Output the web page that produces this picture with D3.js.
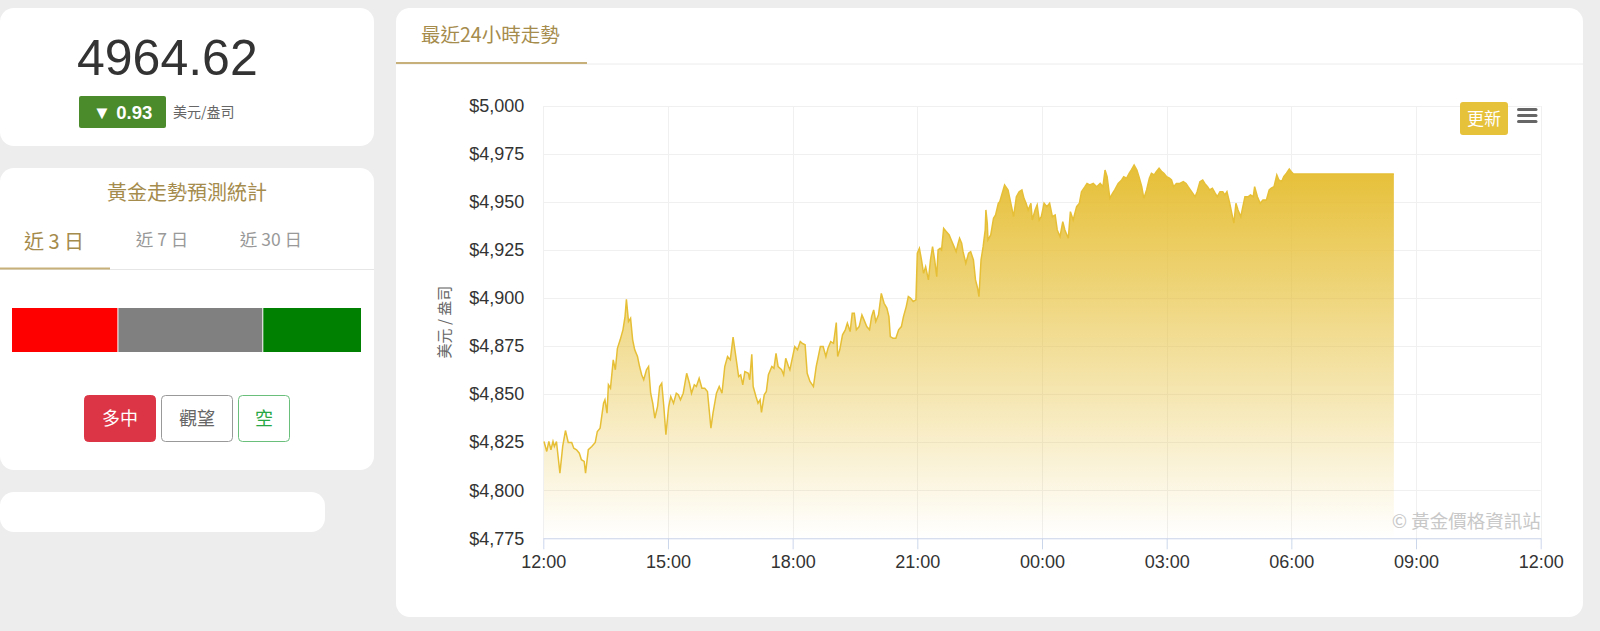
<!DOCTYPE html>
<html>
<head>
<meta charset="utf-8">
<script src="https://cdn.jsdelivr.net/npm/d3@7"></script>
<style>
  body { margin: 0; background: #ededed; font-family: "Liberation Sans", Arial, "Noto Sans CJK TC", sans-serif; }
  svg text { font-family: "Liberation Sans", Arial, "Noto Sans CJK TC", sans-serif; }
</style>
</head>
<body>
<svg id="page" width="1600" height="631"></svg>
<script>
// price header
var lastPrice = "4964.62";
var change = "▼ 0.93";
var unit = "美元/盎司";

// forecast stats (percent)
var votePct = [30.4, 41.4, 28.2];
var voteColors = ["#ff0000", "#808080", "#008000"];
var tabs = ["近 3 日", "近 7 日", "近 30 日"];

// 24h chart, minutes after 12:00
var offsets = [1,5,8,11,14,16,19,24,28,32,36,41,44,48,52,55,59,61,65,70,75,78,82,87,89,92,94,97,101,104,
  107,111,115,118,120,123,126,129,132,136,139,142,145,149,152,155,158,161,165,168,171,174,177,181,184,188,192,195,198,202,
  207,211,214,218,221,225,229,233,237,242,245,250,254,258,262,266,270,274,278,282,285,288,291,296,298,301,303,307,310,313,
  315,319,322,325,330,333,336,339,344,347,350,354,356,360,363,367,371,374,378,381,385,390,394,397,400,404,408,411,415,419,
  423,425,428,432,436,439,443,446,449,452,456,460,463,467,471,474,477,480,484,488,492,496,499,501,505,509,513,517,520,524,
  527,530,534,538,540,543,546,549,552,556,559,562,565,568,570,573,575,578,582,586,589,593,596,599,601,604,606,610,614,617,
  621,624,627,629,632,635,638,639,641,642,646,650,653,657,659,666,671,676,679,683,687,691,694,697,700,704,706,710,713,716,
  719,723,727,731,735,739,742,746,750,753,758,761,765,770,774,777,782,785,789,794,799,804,808,811,814,818,822,825,830,835,
  838,842,846,849,853,857,860,864,867,871,875,878,882,885,889,893,896,900,904,907,910,914,919,924,928,931,936,941,944,948,
  952,955,959,962,966,970,973,977,981,984,987,991,995,997,1000,1003,1007,1010,1013,1018,1021,1025,1027,1031,1035,1039,1044,1048,1051,1055,
  1059,1062,1066,1069,1073,1077,1080,1083,1228];
var prices = [4825.4,4820.2,4825.4,4821.1,4825.4,4822.8,4825.4,4808.9,4822.8,4831.1,4824.9,4824.9,4821.9,4821.1,4819.3,4815.9,4815.0,4808.9,4821.1,4822.8,
  4824.9,4830.6,4832.3,4845.3,4847.1,4840.1,4854.9,4853.1,4867.9,4862.7,4873.9,4878.3,4883.5,4890.4,4899.4,4887.8,4889.5,4878.3,4873.1,4869.6,
  4864.4,4860.1,4857.5,4862.7,4864.4,4850.5,4845.3,4837.5,4843.6,4854.0,4855.7,4843.6,4828.9,4843.6,4848.8,4845.3,4850.5,4849.7,4847.1,4850.5,
  4860.9,4855.7,4850.5,4854.9,4854.0,4858.3,4853.1,4853.1,4851.4,4832.3,4840.1,4850.5,4854.0,4850.5,4864.4,4869.6,4867.9,4879.7,4869.6,4859.2,
  4860.1,4854.9,4861.8,4860.9,4857.5,4870.8,4854.0,4848.8,4845.3,4847.1,4840.5,4849.7,4851.4,4860.1,4864.4,4863.5,4871.3,4864.4,4862.7,4860.1,
  4868.7,4864.4,4862.7,4869.6,4874.8,4873.1,4877.4,4876.5,4875.7,4860.9,4856.6,4854.0,4864.4,4869.6,4874.8,4874.8,4869.6,4873.9,4877.4,4876.5,
  4887.3,4869.6,4873.1,4880.9,4883.5,4887.0,4882.6,4892.1,4892.1,4883.5,4885.2,4891.3,4888.7,4885.2,4883.5,4890.4,4893.9,4887.8,4891.3,4902.5,
  4897.3,4894.8,4890.4,4880.0,4879.1,4879.1,4883.5,4885.2,4890.4,4895.6,4900.8,4900.0,4898.2,4899.1,4923.4,4925.9,4919.9,4912.9,4916.4,4909.5,
  4919.9,4926.8,4919.9,4911.2,4925.1,4925.9,4925.1,4936.3,4934.6,4932.9,4930.3,4926.8,4924.2,4928.6,4931.2,4928.6,4924.2,4918.2,4923.4,4924.2,
  4919.9,4909.5,4905.2,4900.8,4919.9,4926.8,4935.5,4945.9,4939.0,4930.3,4932.9,4941.6,4943.3,4949.4,4950.2,4958.9,4956.3,4947.6,4942.4,4952.8,
  4955.4,4956.3,4951.9,4949.4,4945.9,4949.4,4940.7,4945.9,4948.5,4940.7,4942.4,4949.4,4947.6,4949.4,4942.4,4943.3,4935.5,4932.0,4939.8,4935.5,
  4931.2,4945.0,4940.7,4947.6,4949.4,4955.4,4958.0,4959.7,4958.9,4959.7,4958.0,4959.7,4958.0,4966.7,4963.2,4951.9,4954.6,4956.3,4959.7,4961.5,
  4963.2,4962.4,4965.0,4966.7,4969.3,4966.7,4963.2,4958.0,4951.9,4956.3,4962.4,4965.0,4964.1,4965.8,4967.6,4965.8,4965.0,4963.2,4962.4,4961.5,
  4958.0,4959.7,4959.7,4960.6,4959.7,4958.0,4955.4,4952.8,4955.4,4960.6,4961.5,4959.7,4958.0,4956.3,4957.2,4954.6,4952.8,4955.4,4955.4,4953.7,
  4955.4,4949.4,4942.4,4939.0,4949.4,4945.9,4942.4,4947.6,4952.8,4952.8,4953.7,4952.8,4958.0,4952.8,4949.4,4951.1,4951.1,4956.3,4957.2,4958.0,
  4964.1,4961.5,4960.6,4963.2,4965.0,4967.2,4965.8,4964.62,4964.62];
var xTickLabels = ["12:00","15:00","18:00","21:00","00:00","03:00","06:00","09:00","12:00"];
var yTicks = [4775,4800,4825,4850,4875,4900,4925,4950,4975,5000];

var gold = "#a58b4c";
var cjk = "'Noto Sans CJK TC', sans-serif";
var svg = d3.select("#page");

function card(x, y, w, h) {
  svg.append("rect").attr("x", x).attr("y", y).attr("width", w).attr("height", h)
    .attr("rx", 14).attr("fill", "#fff");
}

// ---- left column ----
card(0, 8, 374, 138);
card(0, 168, 374, 302);
card(0, 492, 325, 40);

svg.append("text").attr("x", 77).attr("y", 75).attr("font-size", 50).attr("fill", "#333").text(lastPrice);
svg.append("rect").attr("x", 79).attr("y", 96).attr("width", 87).attr("height", 32).attr("rx", 2).attr("fill", "#4b8b2b");
svg.append("text").attr("x", 122.5).attr("y", 118.5).attr("text-anchor", "middle").attr("font-size", 18.5)
  .attr("font-weight", "bold").attr("fill", "#fff").text(change);
svg.append("text").attr("x", 173).attr("y", 117).attr("font-size", 14).attr("fill", "#666")
  .style("font-family", cjk).text(unit);

svg.append("text").attr("x", 187).attr("y", 200).attr("text-anchor", "middle").attr("font-size", 20)
  .attr("fill", gold).style("font-family", cjk).text("黃金走勢預測統計");

var tabX = [54, 162, 271];
tabs.forEach(function(t, i) {
  svg.append("text").attr("x", tabX[i]).attr("y", i == 0 ? 249 : 246).attr("text-anchor", "middle")
    .attr("font-size", i == 0 ? 20 : 17.5).attr("fill", i == 0 ? gold : "#999")
    .style("font-family", cjk).text(t);
});
svg.append("line").attr("x1", 0).attr("x2", 374).attr("y1", 269.5).attr("y2", 269.5).attr("stroke", "#e6e6e6");
svg.append("line").attr("x1", 0).attr("x2", 110).attr("y1", 268.5).attr("y2", 268.5).attr("stroke", "#c8b07a").attr("stroke-width", 2);

// stacked share bar
var bx = d3.scaleLinear().domain([0, d3.sum(votePct)]).range([12, 362]);
var acc = 0;
votePct.forEach(function(p, i) {
  svg.append("rect").attr("x", bx(acc)).attr("y", 308).attr("width", bx(acc + p) - bx(acc) - 1)
    .attr("height", 44).attr("fill", voteColors[i]);
  acc += p;
});

// vote buttons
var btns = [
  {x: 84, w: 71, label: "多中", fill: "#dc3545", stroke: "#dc3545", color: "#fff"},
  {x: 161, w: 71, label: "觀望", fill: "#fff", stroke: "#999", color: "#666"},
  {x: 238, w: 51, label: "空", fill: "#fff", stroke: "#6abf7b", color: "#28a745"}
];
btns.forEach(function(b) {
  svg.append("rect").attr("x", b.x + 0.5).attr("y", 395.5).attr("width", b.w).attr("height", 46)
    .attr("rx", 4).attr("fill", b.fill).attr("stroke", b.stroke);
  svg.append("text").attr("x", b.x + b.w / 2 + 0.5).attr("y", 425).attr("text-anchor", "middle")
    .attr("font-size", 18).attr("fill", b.color).style("font-family", cjk).text(b.label);
});

// ---- chart card ----
card(396, 8, 1187, 609);
svg.append("text").attr("x", 421).attr("y", 42).attr("font-size", 19.5).attr("fill", gold)
  .style("font-family", cjk).text("最近24小時走勢");
svg.append("line").attr("x1", 396).attr("x2", 1583).attr("y1", 64).attr("y2", 64).attr("stroke", "#ececec");
svg.append("line").attr("x1", 396).attr("x2", 587).attr("y1", 63).attr("y2", 63).attr("stroke", "#c8b07a").attr("stroke-width", 2);

var margin = {left: 543.3, right: 1540.7, top: 106, bottom: 538.3};
var x = d3.scaleLinear().domain([0, 1440]).range([margin.left, margin.right]);
var y = d3.scaleLinear().domain([4775, 5000]).range([margin.bottom, margin.top]);
var xTicks = xTickLabels.map(function(d, i) { return i * 180; });

var g = svg.append("g");
// grid
g.selectAll(".hg").data(yTicks).enter().append("line")
  .attr("x1", margin.left).attr("x2", margin.right)
  .attr("y1", function(d) { return Math.round(y(d)) + 0.5; }).attr("y2", function(d) { return Math.round(y(d)) + 0.5; })
  .attr("stroke", "#f0f0f0");
g.selectAll(".vg").data(xTicks).enter().append("line")
  .attr("y1", margin.top).attr("y2", margin.bottom)
  .attr("x1", function(d) { return Math.round(x(d)) + 0.5; }).attr("x2", function(d) { return Math.round(x(d)) + 0.5; })
  .attr("stroke", "#f0f0f0");

var defs = svg.append("defs");
var grad = defs.append("linearGradient").attr("id", "fillGold").attr("x1", 0).attr("y1", 0).attr("x2", 0).attr("y2", 1);
grad.append("stop").attr("offset", "0%").attr("stop-color", "#e6bf36").attr("stop-opacity", 1);
grad.append("stop").attr("offset", "100%").attr("stop-color", "#e6bf36").attr("stop-opacity", 0);

var pts = offsets.map(function(m, i) { return [m, prices[i]]; });
var area = d3.area().x(function(d) { return x(d[0]); }).y0(y(4775)).y1(function(d) { return y(d[1]); });
var line = d3.line().x(function(d) { return x(d[0]); }).y(function(d) { return y(d[1]); });
g.append("path").datum(pts).attr("d", area).attr("fill", "url(#fillGold)");
g.append("path").datum(pts).attr("d", line).attr("fill", "none").attr("stroke", "#e6bf36").attr("stroke-width", 1.5);

// axes
var yAxis = svg.append("g").attr("transform", "translate(" + margin.left + ",0)")
  .call(d3.axisLeft(y).tickValues(yTicks).tickFormat(d3.format("$,")).tickSize(0).tickPadding(19));
yAxis.select(".domain").remove();
yAxis.selectAll("text").attr("font-size", 18).attr("fill", "#333").attr("font-family", null);

var xAxis = svg.append("g").attr("transform", "translate(0," + margin.bottom + ")")
  .call(d3.axisBottom(x).tickValues(xTicks).tickFormat(function(d, i) { return xTickLabels[i]; }).tickSize(11).tickPadding(6).tickSizeOuter(0));
xAxis.select(".domain").attr("stroke", "#ccd6eb");
xAxis.selectAll(".tick line").attr("stroke", "#ccd6eb");
xAxis.selectAll("text").attr("font-size", 18).attr("fill", "#333").attr("font-family", null);

svg.append("text").attr("transform", "translate(450," + ((margin.top + margin.bottom) / 2) + ") rotate(-90)")
  .attr("text-anchor", "middle").attr("font-size", 15).attr("fill", "#666")
  .style("font-family", cjk).text("美元 / 盎司");

svg.append("text").attr("x", margin.right).attr("y", 528).attr("text-anchor", "end").attr("font-size", 18.5)
  .attr("fill", "#c8c8c8").style("font-family", cjk).text("© 黃金價格資訊站");

// refresh button and menu icon
svg.append("rect").attr("x", 1460).attr("y", 102).attr("width", 48).attr("height", 33).attr("rx", 3).attr("fill", "#e6c13a");
svg.append("text").attr("x", 1484).attr("y", 125).attr("text-anchor", "middle").attr("font-size", 17).attr("fill", "#fff")
  .style("font-family", cjk).text("更新");
[109.5, 115.5, 121.5].forEach(function(yy) {
  svg.append("line").attr("x1", 1518.5).attr("x2", 1536).attr("y1", yy).attr("y2", yy)
    .attr("stroke", "#666").attr("stroke-width", 3).attr("stroke-linecap", "round");
});
</script>
</body>
</html>
